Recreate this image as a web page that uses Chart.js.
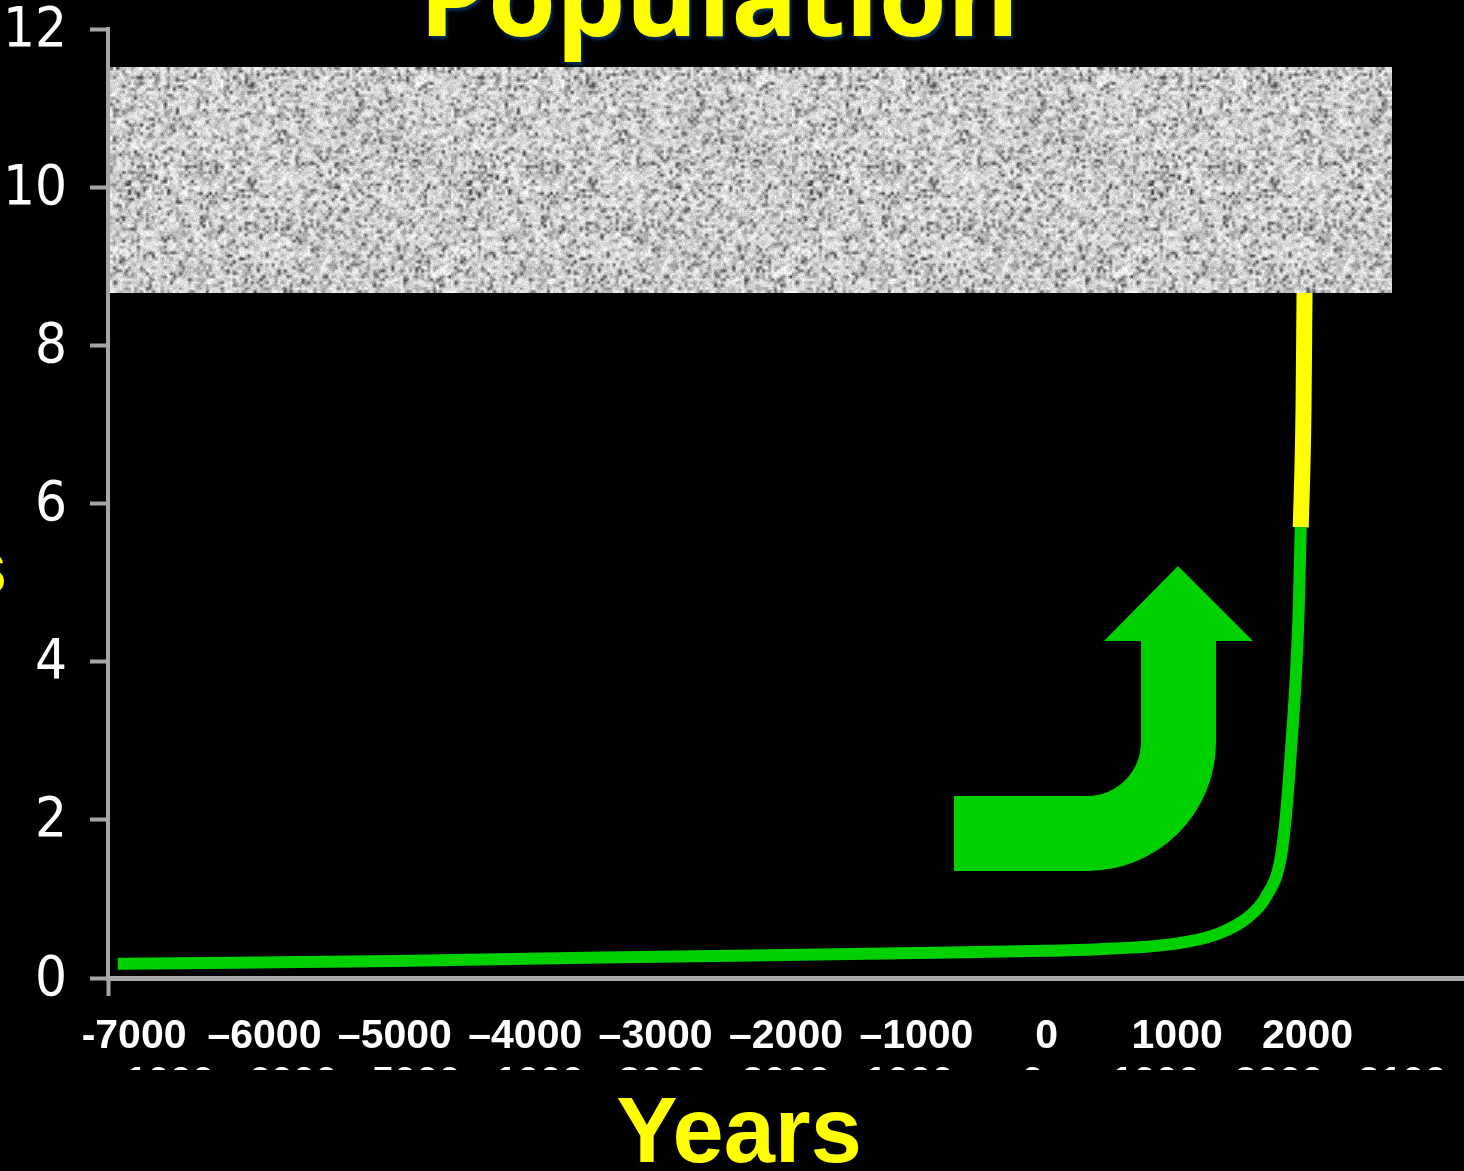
<!DOCTYPE html>
<html>
<head>
<meta charset="utf-8">
<script src="https://cdn.jsdelivr.net/npm/chart.js@4.4.1/dist/chart.umd.min.js"></script>
<style>
  html, body { margin: 0; padding: 0; background: #000; overflow: hidden; }
  #chart { display: block; }
</style>
</head>
<body>
<canvas id="chart" width="1464" height="1171"></canvas>
<script>
// Population (billions)
const greenYears  = [-7125, -5000, -3400, -1000, 0, 400, 800, 1050, 1315, 1545, 1682, 1791, 1831, 1861, 1891, 1916, 1933, 1948];
const greenValues = [0.18, 0.215, 0.26, 0.315, 0.345, 0.365, 0.40, 0.45, 0.56, 0.77, 1.03, 1.49, 2.0, 2.6, 3.3, 4.0, 4.7, 5.7];
const yellowYears  = [1948, 1969, 1977, 1980];
const yellowValues = [5.7, 7.18, 8.66, 9.2];

const xTickValues = [-7000, -6000, -5000, -4000, -3000, -2000, -1000, 0, 1000, 2000];
const xTickLabels = ['-7000', '–6000', '–5000', '–4000', '–3000', '–2000', '–1000', '0', '1000', '2000'];
// labels of the original axis, almost fully hidden under the typed ones
const hiddenLabels = ['1000', '6000', '5000', '1000', '3000', '2000', '1000', '0', '1000', '2000', '2100'];

const GRAY = '#a6a6a6';
const GREEN = '#00d000';
const YELLOW = '#ffff00';

function toPoints(xs, ys) {
    return xs.map((x, i) => ({ x: x, y: ys[i] }));
}

// granite tile, seeded so every run looks the same
function makeGranite(w, h, seed) {
    let s = seed;
    const rand = () => {
        s = (s + 0x6D2B79F5) | 0;
        let t = Math.imul(s ^ (s >>> 15), 1 | s);
        t = (t + Math.imul(t ^ (t >>> 7), 61 | t)) ^ t;
        return ((t ^ (t >>> 14)) >>> 0) / 4294967296;
    };
    const sw = Math.ceil(w / 3), sh = Math.ceil(h / 3);
    const small = document.createElement('canvas');
    small.width = sw; small.height = sh;
    const sctx = small.getContext('2d');
    const img = sctx.createImageData(sw, sh);
    for (let i = 0; i < sw * sh; i++) {
        const r = rand();
        let v;
        if (r < 0.09) v = 60 + rand() * 70;
        else if (r < 0.3) v = 140 + rand() * 45;
        else v = 190 + rand() * 60;
        img.data[i * 4] = v;
        img.data[i * 4 + 1] = v;
        img.data[i * 4 + 2] = Math.min(255, v + 3);
        img.data[i * 4 + 3] = 255;
    }
    sctx.putImageData(img, 0, 0);
    const tile = document.createElement('canvas');
    tile.width = w; tile.height = h;
    const tctx = tile.getContext('2d');
    tctx.imageSmoothingEnabled = true;
    tctx.drawImage(small, 0, 0, w, h);
    // fine grain on top
    const full = tctx.getImageData(0, 0, w, h);
    for (let i = 0; i < w * h; i++) {
        const n = (rand() - 0.5) * 40;
        for (let k = 0; k < 3; k++) {
            full.data[i * 4 + k] = Math.max(0, Math.min(255, full.data[i * 4 + k] + n));
        }
    }
    tctx.putImageData(full, 0, 0);
    return tile;
}

const granite = makeGranite(341, 226, 1234);

const slideDecor = {
    id: 'slideDecor',
    afterDatasetsDraw(chart) {
        const ctx = chart.ctx;
        ctx.save();
        // stone band over the top of the plot
        ctx.beginPath();
        ctx.rect(110, 67, 1282, 226);
        ctx.clip();
        for (let x = 110; x < 1392; x += 341) {
            ctx.drawImage(granite, x, 67);
        }
        ctx.restore();

        // bent green arrow
        ctx.save();
        ctx.fillStyle = GREEN;
        ctx.beginPath();
        ctx.moveTo(954, 796);
        ctx.lineTo(1087, 796);
        ctx.arc(1087, 742, 54, Math.PI / 2, 0, true);
        ctx.lineTo(1141, 641);
        ctx.lineTo(1104, 641);
        ctx.lineTo(1178, 566);
        ctx.lineTo(1253, 641);
        ctx.lineTo(1216, 641);
        ctx.lineTo(1216, 742);
        ctx.arc(1087, 742, 129, 0, Math.PI / 2, false);
        ctx.lineTo(954, 871);
        ctx.closePath();
        ctx.fill();
        ctx.restore();
    },
    afterDraw(chart) {
        const ctx = chart.ctx;
        ctx.save();
        // cover the original axis labels, leaving only their tops
        ctx.fillStyle = '#000';
        ctx.fillRect(0, 1070, chart.width, chart.height - 1070);

        ctx.fillStyle = YELLOW;
        ctx.textAlign = 'center';
        ctx.textBaseline = 'alphabetic';
        ctx.font = 'bold 92px "Liberation Sans", Arial, sans-serif';
        ctx.fillText('Years', 739, 1162);

        ctx.textAlign = 'right';
        ctx.font = 'bold 76px "Liberation Sans", Arial, sans-serif';
        ctx.fillText('Billions', 7, 593);

        // title, mostly off the top of the frame
        ctx.font = 'bold 100px "Open Sans", sans-serif';
        const w = ctx.measureText('Population').width;
        const size = 100 * 600 / w;
        ctx.font = 'bold ' + size.toFixed(1) + 'px "Open Sans", sans-serif';
        ctx.textAlign = 'center';
        ctx.shadowColor = 'rgba(10, 50, 95, 0.95)';
        ctx.shadowOffsetX = 2;
        ctx.shadowOffsetY = 3;
        ctx.shadowBlur = 3;
        ctx.fillText('Population', 719, 36);
        ctx.restore();
    }
};

const ctx = document.getElementById('chart').getContext('2d');
new Chart(ctx, {
    type: 'line',
    data: {
        labels: hiddenLabels,
        datasets: [{
            label: 'Population',
            data: toPoints(greenYears, greenValues),
            xAxisID: 'x',
            borderColor: GREEN,
            borderWidth: 12,
            borderCapStyle: 'butt',
            pointRadius: 0,
            cubicInterpolationMode: 'monotone',
            fill: false
        }, {
            label: 'Projection',
            data: toPoints(yellowYears, yellowValues),
            xAxisID: 'x',
            borderColor: YELLOW,
            borderWidth: 16,
            borderCapStyle: 'butt',
            pointRadius: 0,
            cubicInterpolationMode: 'monotone',
            fill: false
        }]
    },
    options: {
        responsive: false,
        devicePixelRatio: 1,
        animation: false,
        events: [],
        layout: {
            autoPadding: false,
            padding: { top: 29, left: 0, right: 0, bottom: 57 }
        },
        plugins: {
            legend: { display: false },
            tooltip: { enabled: false },
            title: { display: false }
        },
        scales: {
            x: {
                type: 'linear',
                position: 'bottom',
                weight: 0,
                min: -7200,
                max: 3200,
                afterBuildTicks: (scale) => {
                    scale.ticks = [-7200].concat(xTickValues).map(v => ({ value: v }));
                },
                afterFit: (scale) => {
                    scale.height = 76;
                    scale.paddingLeft = 0;
                    scale.paddingRight = 0;
                },
                border: { display: true, color: GRAY, width: 5 },
                grid: {
                    display: true,
                    drawOnChartArea: false,
                    drawTicks: true,
                    tickLength: 18,
                    tickWidth: 4,
                    tickColor: (c) => (c.tick && c.tick.value === -7200) ? GRAY : 'rgba(0,0,0,0)'
                },
                ticks: {
                    autoSkip: false,
                    maxRotation: 0,
                    minRotation: 0,
                    padding: 16,
                    color: '#ffffff',
                    font: { family: '"Liberation Sans", Arial, sans-serif', size: 41, weight: 'bold' },
                    callback: (value) => {
                        const i = xTickValues.indexOf(value);
                        return i >= 0 ? xTickLabels[i] : '';
                    }
                }
            },
            x2: {
                type: 'category',
                position: 'bottom',
                weight: 1,
                offset: true,
                afterFit: (scale) => {
                    scale.height = 60;
                    scale.paddingLeft = 0;
                    scale.paddingRight = 0;
                },
                border: { display: false },
                grid: { display: false, drawTicks: false },
                ticks: {
                    autoSkip: false,
                    maxRotation: 0,
                    minRotation: 0,
                    padding: 6,
                    color: '#ffffff',
                    font: { family: '"Liberation Sans", Arial, sans-serif', size: 40, weight: 'bold' }
                }
            },
            y: {
                type: 'linear',
                min: 0,
                max: 12,
                afterFit: (scale) => {
                    scale.width = 108;
                    scale.paddingTop = 0;
                    scale.paddingBottom = 0;
                },
                border: { display: true, color: GRAY, width: 4 },
                grid: {
                    display: true,
                    drawOnChartArea: false,
                    drawTicks: true,
                    tickLength: 18,
                    tickWidth: 4,
                    tickColor: GRAY
                },
                ticks: {
                    stepSize: 2,
                    padding: 23,
                    labelOffset: 2,
                    color: '#ffffff',
                    font: { family: '"Liberation Sans Narrow", "DejaVu Sans Condensed", Roboto, sans-serif', size: 56, weight: 'normal' }
                }
            }
        }
    },
    plugins: [slideDecor]
});
</script>
</body>
</html>
